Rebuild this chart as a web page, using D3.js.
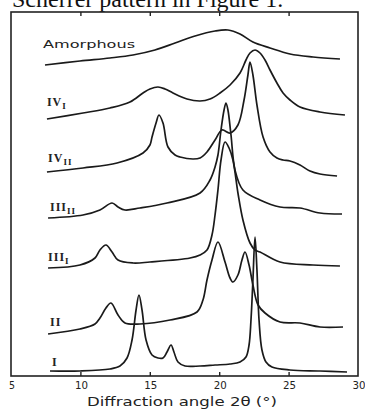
<!DOCTYPE html>
<html>
<head>
<meta charset="utf-8">
<script src="https://cdn.jsdelivr.net/npm/d3@7"></script>
<style>
  html, body { margin: 0; padding: 0; background: #fff; }
  svg { display: block; }
  .lbl { font-family: "DejaVu Sans", "Liberation Sans", sans-serif; fill: #222; }
  .rom { font-family: "Liberation Serif", "DejaVu Serif", serif; fill: #222; font-weight: bold; }
</style>
</head>
<body>
<svg id="chart" width="365" height="409"></svg>
<script>
// Diffraction angle 2θ (deg) vs intensity (a.u., curves stacked)
const xTicks = [5, 10, 15, 20, 25, 30];

const amorphous = [[7.45,311],[9.97,315],[12.13,318],[13.79,321],[15.37,326],[16.82,333],[18.26,340],[19.70,345],[20.63,346],[21.50,342],[22.43,334],[23.66,328],[25.10,322],[26.76,319],[28.70,317]];

const ivI = [[7.59,257],[10.19,263],[12.13,268],[13.57,274],[14.51,283],[15.01,287],[15.59,289],[16.10,287],[16.67,283],[17.68,277],[18.62,275],[19.34,277],[20.06,283],[20.78,291],[21.50,303],[21.93,316],[22.22,323],[22.58,326],[22.94,323],[23.30,316],[23.66,306],[24.16,293],[24.60,283],[25.10,276],[25.82,269],[27.26,264],[29.06,261]];

const ivII = [[7.59,204],[10.19,208],[12.64,213],[14.51,223],[15.01,231],[15.16,239],[15.45,253],[15.66,261],[15.95,253],[16.31,229],[16.82,221],[17.18,219],[18.11,217],[18.62,218],[19.12,224],[19.70,236],[20.20,246],[20.78,243],[21.35,251],[21.79,276],[22.07,301],[22.22,314],[22.43,301],[22.72,271],[23.16,239],[23.66,224],[24.16,218],[24.60,216],[25.10,215],[25.82,211],[26.54,205],[27.26,202],[28.49,200]];

const iiiII = [[7.67,158],[10.19,161],[11.41,166],[12.28,173],[12.71,169],[13.21,166],[14.29,168],[16.24,173],[18.62,183],[19.34,196],[19.70,209],[19.91,221],[20.13,246],[20.35,266],[20.49,273],[20.63,266],[20.85,241],[21.14,206],[21.71,186],[22.94,176],[24.38,169],[25.82,168],[27.26,163],[28.85,162]];

const iiiI = [[7.67,108],[9.97,111],[11.05,118],[11.41,126],[11.84,131],[12.28,124],[12.71,116],[13.79,113],[15.01,114],[17.90,118],[18.62,121],[19.12,126],[19.48,141],[19.70,161],[19.91,186],[20.13,216],[20.42,234],[20.71,228],[20.99,216],[21.35,183],[21.71,156],[22.22,133],[22.58,126],[22.94,124],[24.38,114],[26.76,111],[28.70,110]];

const ii = [[7.67,42],[9.97,47],[11.05,52],[11.41,58],[11.84,68],[12.20,73],[12.71,61],[13.21,53],[14.29,52],[16.46,56],[18.40,64],[18.83,76],[19.12,96],[19.48,116],[19.91,134],[20.42,114],[20.78,98],[20.99,94],[21.35,101],[21.64,116],[21.86,124],[22.15,111],[22.43,91],[22.80,71],[23.30,63],[24.38,54],[25.82,53],[27.26,49],[28.92,49]];

const cellI = [[7.81,5],[9.97,5],[12.13,7],[12.85,10],[13.36,18],[13.72,36],[14.01,66],[14.22,81],[14.44,66],[14.73,36],[15.16,21],[15.59,18],[15.95,18],[16.24,24],[16.53,31],[16.74,24],[17.03,14],[17.54,10],[18.62,10],[19.70,11],[20.78,12],[21.50,14],[21.93,19],[22.15,31],[22.29,56],[22.43,96],[22.58,139],[22.72,106],[22.87,56],[23.08,26],[23.37,14],[23.80,9],[25.10,6],[27.26,5],[29.21,4]];

const series = [amorphous, ivI, ivII, iiiII, iiiI, ii, cellI];
// label text: [main, subscript]
const labelText = [["Amorphous", ""], ["IV", "I"], ["IV", "II"], ["III", "II"], ["III", "I"], ["II", ""], ["I", ""]];
const labelAt = [[7.31,328],[7.59,270],[7.67,214],[7.81,165],[7.67,115],[7.81,50],[7.95,10]];

const svg = d3.select('#chart');
const x = d3.scaleLinear().domain([5, 30]).range([11, 358]);
const y = d3.scaleLinear().domain([0, 364]).range([376, 12]);

// caption cut off at the top of the page
svg.append('text')
  .attr('x', 12).attr('y', 7)
  .attr('font-family', '"Liberation Serif", serif')
  .attr('font-size', 24)
  .attr('fill', '#111')
  .text('Scherrer pattern in Figure 1.');

// frame
svg.append('rect')
  .attr('x', x(5)).attr('y', y(364))
  .attr('width', x(30) - x(5)).attr('height', y(0) - y(364))
  .attr('fill', 'none').attr('stroke', '#222').attr('stroke-width', 1.6);

const inner = xTicks.slice(1, -1);
svg.append('g').attr('transform', `translate(0,${y(0)})`)
  .call(d3.axisBottom(x).tickValues(inner).tickSize(-4).tickFormat(''))
  .call(g => g.select('.domain').remove())
  .selectAll('line').attr('stroke', '#222').attr('stroke-width', 1.4);
svg.append('g').attr('transform', `translate(0,${y(364)})`)
  .call(d3.axisTop(x).tickValues(inner).tickSize(-4).tickFormat(''))
  .call(g => g.select('.domain').remove())
  .selectAll('line').attr('stroke', '#222').attr('stroke-width', 1.4);

// tick labels
svg.selectAll('.tl')
  .data(xTicks)
  .enter().append('text')
  .attr('class', 'lbl')
  .attr('x', d => x(d) + 1)
  .attr('y', 389)
  .attr('text-anchor', 'middle')
  .attr('font-size', 11)
  .attr('textLength', d => d < 10 ? 6 : 13)
  .attr('lengthAdjust', 'spacingAndGlyphs')
  .text(d => d);

svg.append('text')
  .attr('class', 'lbl')
  .attr('x', 87).attr('y', 406)
  .attr('font-size', 12)
  .attr('textLength', 190)
  .attr('lengthAdjust', 'spacingAndGlyphs')
  .text('Diffraction angle 2θ (°)');

// patterns
const line = d3.line()
  .x(d => x(d[0]))
  .y(d => y(d[1]))
  .curve(d3.curveCatmullRom.alpha(0.5));

svg.selectAll('.pattern')
  .data(series)
  .enter().append('path')
  .attr('class', 'pattern')
  .attr('d', line)
  .attr('fill', 'none')
  .attr('stroke', '#1a1a1a')
  .attr('stroke-width', 1.7)
  .attr('stroke-linejoin', 'round');

// curve labels
labelText.forEach((t, i) => {
  const p = labelAt[i];
  const txt = svg.append('text')
    .attr('x', x(p[0])).attr('y', y(p[1]));
  if (i === 0) {
    txt.attr('class', 'lbl').attr('font-size', 11)
      .attr('textLength', 92).attr('lengthAdjust', 'spacingAndGlyphs')
      .text(t[0]);
  } else {
    txt.attr('class', 'rom').attr('font-size', 12).attr('letter-spacing', 1).text(t[0]);
    if (t[1]) {
      txt.append('tspan').attr('dy', 3).attr('font-size', 9).text(t[1]);
    }
  }
});
</script>
</body>
</html>
